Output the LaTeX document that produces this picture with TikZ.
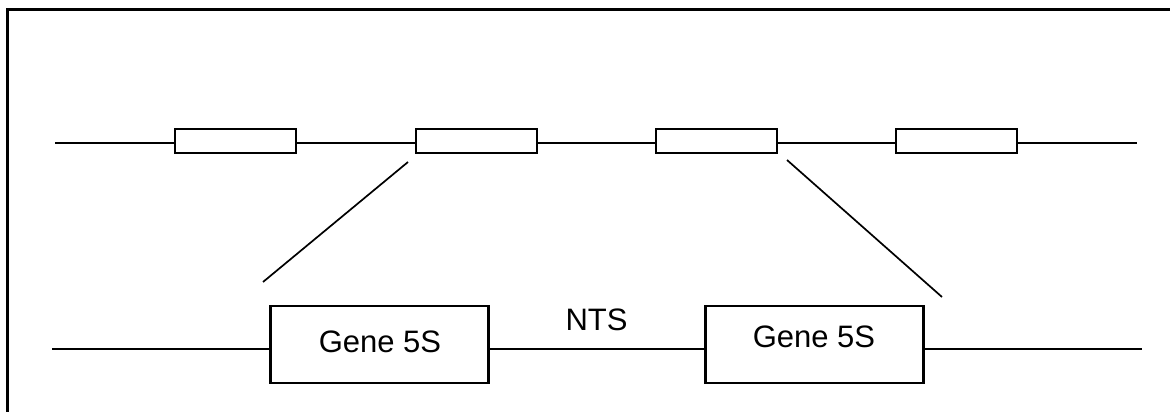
\documentclass[tikz,border=0pt]{standalone}
\usepackage{fontspec}
\setmainfont{Liberation Sans}
\begin{document}
\begin{tikzpicture}[x=1pt,y=-1pt,line width=2.1pt,
  smallbox/.style={draw,rectangle,inner sep=0pt,minimum width=121pt,minimum height=24pt,fill=white},
  genebox/.style={draw,rectangle,inner sep=0pt,minimum width=218pt,minimum height=77pt,fill=white},
  lbl/.style={font=\fontsize{31}{36}\selectfont,inner sep=0pt}]
\useasboundingbox (0,0) rectangle (1170,412);
% frame
\coordinate (fb) at (7.5,420);
\coordinate (ftl) at (7.5,9.5);
\coordinate (fr) at (1180,9.5);
\draw (fb) -- (ftl) -- (fr);
% top row
\coordinate (tL) at (55,143);
\coordinate (tR) at (1137,143);
\node[smallbox] (b1) at (235.5,141) {};
\node[smallbox] (b2) at (476.5,141) {};
\node[smallbox] (b3) at (716.5,141) {};
\node[smallbox] (b4) at (956.5,141) {};
\draw (tL) -- (tL -| b1.west);
\draw (b1.east |- tL) -- (b2.west |- tL);
\draw (b2.east |- tL) -- (b3.west |- tL);
\draw (b3.east |- tL) -- (b4.west |- tL);
\draw (b4.east |- tL) -- (tR);
% bottom row
\coordinate (bL) at (52,349);
\coordinate (bR) at (1142,349);
\node[genebox] (g1) at (379.5,344.5) {};
\node[genebox] (g2) at (814.5,344.5) {};
\node[lbl] at (380,342) {Gene 5S};
\node[lbl] at (814,337) {Gene 5S};
\draw (bL) -- (g1.west |- bL);
\draw (g1.east |- bL) -- node[lbl,above=17pt,xshift=-0.5pt] (nts) {NTS} (g2.west |- bL);
\draw (g2.east |- bL) -- (bR);
% zoom lines
\coordinate (d1a) at (408,162);
\coordinate (d1b) at (263,282);
\coordinate (d2a) at (787,160);
\coordinate (d2b) at (942,297);
\draw[line width=1.7pt] (d1a) -- (d1b);
\draw[line width=1.7pt] (d2a) -- (d2b);
\end{tikzpicture}
\end{document}
